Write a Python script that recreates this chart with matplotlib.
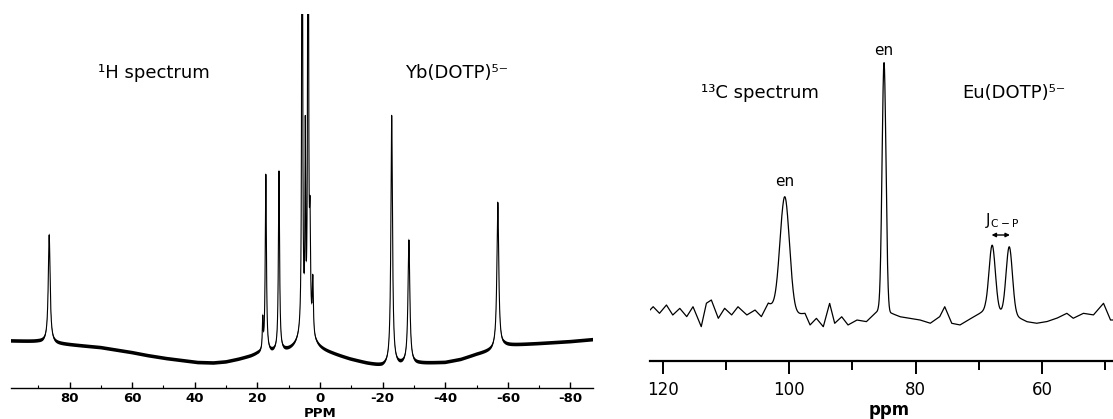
import numpy as np
import matplotlib
matplotlib.use("Agg")
import matplotlib.pyplot as plt

plt.rcParams['font.family'] = ['DejaVu Sans']

# ---------------- 1H spectrum, Yb(DOTP)5- ----------------
h_xlim = (98.7, -87.2)
h_peak_ppm = [86.5, 18.3, 17.3, 13.1, 5.7, 4.7, 3.8, 3.2, 2.3, 4.7, -22.9, -28.4, -56.8]
h_peak_amp = [108, 30, 178, 180, 900, 185, 900, 100, 55, 20, 250, 124, 146]
h_peak_hwhm = [0.35, 0.15, 0.22, 0.22, 0.12, 0.12, 0.12, 0.2, 0.2, 2.2, 0.3, 0.35, 0.35]
h_base_ppm = [98.7, 90, 84, 77, 70, 65, 60, 55, 49, 44, 39, 34, 30, 26, 22, 20, 15, 10,
              7, 1, -4, -9.6, -15, -20, -25.6, -32, -40, -45, -50, -55, -59, -70,
              -80, -87.2]
h_base_height = [46.7, 46, 44, 42, 40, 37.5, 35, 32, 29, 27, 25, 24.5, 25.5, 28, 31,
                 33, 34, 35, 36, 37, 33, 28, 24, 21, 22, 24, 25, 28, 33, 37, 42, 44,
                 46, 48]
h_noise = 1.8
h_ticks = [80, 60, 40, 20, 0, -20, -40, -60, -80]
h_tick_labels = ["80", "60", "40", "20", "0", "-20", "-40", "-60", "-80"]
h_minor_ticks = [90, 70, 50, 30, 10, -10, -30, -50, -70]

# ---------------- 13C spectrum, Eu(DOTP)5- ----------------
c_xlim = (122.0, 48.8)
c_peak_ppm = [100.7, 85.0, 67.9, 65.2]
c_peak_amp = [118, 250, 66, 68]
c_peak_sigma = [0.75, 0.31, 0.5, 0.5]
c_base_ppm = [122.0, 121.5, 120.5, 119.4, 118.4, 117.3, 116.2, 115.2, 113.9, 113.1,
              112.3, 111.2, 110.2, 109.1, 108.1, 106.7, 105.4, 104.4, 103.3, 101.0,
              99.0, 97.5, 96.7, 95.7, 94.6, 93.6, 92.8, 91.7, 90.7, 89.3, 87.8, 86.4,
              85.9, 84.5, 83.8, 82.5, 80.9, 79.3, 77.7, 76.2, 75.4, 74.3, 73.0, 71.7,
              70.3, 69.0, 66.5, 64.0, 62.4, 60.9, 59.3, 57.7, 56.1, 55.1, 53.5, 51.9,
              50.3, 49.2]
c_base_height = [50.7, 54, 47.4, 55.7, 45.7, 52.4, 44, 54, 34, 57.4,
                 60.7, 42.4, 52.4, 45.7, 54, 45.7, 50.7, 44, 57.4, 46,
                 46, 47.4, 35.7, 42.4, 34, 57.4, 37.4, 44, 35.7, 40.7, 39, 47.4,
                 50, 47, 47.4, 44, 42.4, 40.7, 37.4, 44, 54, 37.4, 35.7, 40.7,
                 45.7, 50.7, 48, 44, 39, 37.4, 39, 42.4, 47.4, 42.4, 47.4, 45.7,
                 57.4, 40.7]
c_ticks = [120, 100, 80, 60]
c_tick_labels = ["120", "100", "80", "60"]
c_minor_ticks = [110, 90, 70, 50]

fig = plt.figure(figsize=(11.13, 4.19), dpi=100)
W, H = 1113.0, 419.0

# ---------- left panel ----------
ax1 = fig.add_axes([11 / W, (H - 387.7) / H, 582 / W, (387.7 - 14) / H])
x1 = np.linspace(h_xlim[0], h_xlim[1], 16000)
y1 = np.interp(x1, h_base_ppm[::-1], h_base_height[::-1])
for p, a, w in zip(h_peak_ppm, h_peak_amp, h_peak_hwhm):
    y1 = y1 + a * w ** 2 / ((x1 - p) ** 2 + w ** 2)
ax1.fill_between(x1, y1 - h_noise, y1 + h_noise, color='black', lw=0)
ax1.plot(x1, y1, color='black', lw=0.8)
ax1.set_xlim(*h_xlim)
ax1.set_ylim(0, 373.7)
for s in ['left', 'right', 'top']:
    ax1.spines[s].set_visible(False)
ax1.spines['bottom'].set_linewidth(1.0)
ax1.set_yticks([])
ax1.set_xticks(h_ticks)
ax1.set_xticklabels(h_tick_labels, fontweight='bold')
ax1.set_xticks(h_minor_ticks, minor=True)
ax1.tick_params(axis='x', which='major', direction='in', length=4, width=1.0,
                pad=3, labelsize=9.5)
ax1.tick_params(axis='x', which='minor', direction='in', length=2, width=0.8)
ax1.set_xlabel("PPM", fontsize=9.5, fontweight='bold')
ax1.xaxis.set_label_coords((320 - 11) / 582, -(413.5 - 387.7) / (387.7 - 14))
ax1.xaxis.label.set_va('center')
ax1.text(53, 314.7, "¹H spectrum", fontsize=13, ha='center', va='center')
ax1.text(-43.5, 314.7, "Yb(DOTP)⁵⁻", fontsize=13, ha='center', va='center')

# ---------- right panel ----------
ax2 = fig.add_axes([650 / W, (H - 360.7) / H, 463 / W, (360.7 - 20) / H])
x2 = np.linspace(c_xlim[0], c_xlim[1], 6000)
y2 = np.interp(x2, c_base_ppm[::-1], c_base_height[::-1])
for p, a, s in zip(c_peak_ppm, c_peak_amp, c_peak_sigma):
    y2 = y2 + a * np.exp(-0.5 * ((x2 - p) / s) ** 2)
ax2.plot(x2, y2, color='black', lw=0.9)
ax2.set_xlim(*c_xlim)
ax2.set_ylim(0, 340.7)
for s in ['left', 'right', 'top']:
    ax2.spines[s].set_visible(False)
ax2.spines['bottom'].set_linewidth(1.6)
ax2.set_yticks([])
ax2.set_xticks(c_ticks)
ax2.set_xticklabels(c_tick_labels)
ax2.set_xticks(c_minor_ticks, minor=True)
ax2.tick_params(axis='x', which='major', direction='out', length=9.4, width=1.4,
                pad=5, labelsize=12)
ax2.tick_params(axis='x', which='minor', direction='out', length=6.5, width=1.4)
ax2.set_xlabel("ppm", fontsize=12, fontweight='bold')
ax2.xaxis.set_label_coords((889 - 650) / 463, -(410 - 360.7) / (360.7 - 20))
ax2.xaxis.label.set_va('center')
ax2.text(104.6, 267.7, "¹³C spectrum", fontsize=13, ha='center', va='center')
ax2.text(64.4, 267.7, "Eu(DOTP)⁵⁻", fontsize=13, ha='center', va='center')
ax2.text(100.7, 179, "en", fontsize=11, ha='center', va='center')
ax2.text(85.0, 310.7, "en", fontsize=11, ha='center', va='center')
ax2.text(66.4, 140.7, r"J$_{\mathrm{C-P}}$", fontsize=11, ha='center', va='center')
ax2.annotate("", xy=(65.1, 125.7), xytext=(68.0, 125.7),
             arrowprops=dict(arrowstyle='<|-|>', color='black', lw=1.0,
                             mutation_scale=6, shrinkA=0, shrinkB=0))

fig.savefig("out.png", dpi=100)
